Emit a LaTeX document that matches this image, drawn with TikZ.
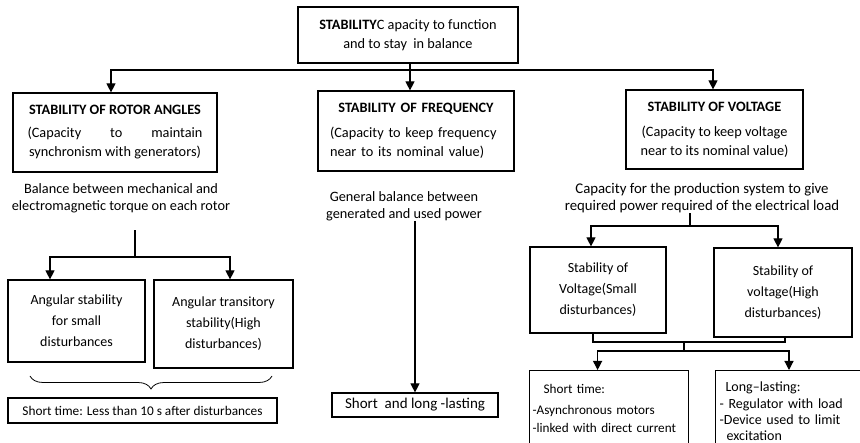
\documentclass[tikz,border=0pt]{standalone}
\usepackage{fontspec}
\setmainfont{Carlito}
\usetikzlibrary{arrows.meta}
\usetikzlibrary{decorations.pathreplacing}
\tikzset{
  stabbox/.style={draw, line width=1.2pt, align=center, inner sep=2pt, font=\fontsize{14.3}{19}\selectfont},
  plaintext/.style={align=center, inner sep=0pt, font=\fontsize{14.3}{17}\selectfont},
  branch/.style={line width=1.2pt},
  arr/.style={line width=1.2pt, -{Triangle[length=9pt,width=9pt]}},
}
\newcommand{\stabblock}[7][]{\node[stabbox, minimum width=#5pt, minimum height=#6pt, #1] (#2) at (#3,#4) {#7};}

\begin{document}
\begin{tikzpicture}[x=1pt,y=-1pt]
        \path[use as bounding box, clip] (0,0) rectangle (860,443);

        % top
        \stabblock{top}{408}{35}{220}{56}{\textbf{STABILITY}C apacity to function\\and to stay\ \ in balance}

        % level 1
        \stabblock{rotor}{115}{132.5}{204}{79}{\textbf{STABILITY OF ROTOR ANGLES}\\[4pt]\makebox[175pt][s]{(Capacity to maintain}\\synchronism with generators)}
        \stabblock[align=left, text width=178pt]{freq}{416}{131}{196}{80}{\makebox[178pt]{\textbf{STABILITY OF FREQUENCY}}\\[6pt]\hspace*{3pt}(Capacity to keep frequency\\\hspace*{3pt}near to its nominal value)}
        \stabblock{volt}{714.5}{129.5}{177}{79}{\textbf{STABILITY OF VOLTAGE}\\[6pt](Capacity to keep voltage\\near to its nominal value)}

        \node[plaintext] (bal1) at (121,198) {Balance between mechanical and\\electromagnetic torque on each rotor};
        \node[plaintext] (bal2) at (404,206) {General balance between\\generated and used power};
        \node[plaintext, font=\fontsize{14.8}{17}\selectfont] (bal3) at (702,198) {Capacity for the production system to give\\required power required of the electrical load};

        \coordinate (tjoin) at (410,70);
        \draw[branch] (top.south -| tjoin) -- (tjoin);
        \draw[arr] (tjoin) -- (tjoin |- freq.north);
        \draw[arr] (tjoin) -| ([xshift=-4pt]rotor.north);
        \draw[arr] (tjoin) -| ([xshift=-1.5pt]volt.north);

        % rotor angles
        \stabblock[font=\fontsize{14}{21}\selectfont]{angsmall}{76.5}{321}{137}{82}{Angular stability\\for small\\disturbances}
        \stabblock[font=\fontsize{14}{21}\selectfont]{angtrans}{223.5}{324}{139}{88}{Angular transitory\\stability(High\\disturbances)}
        \stabblock[font=\fontsize{13.3}{16}\selectfont]{shortt}{142.5}{410.5}{269}{25}{Short time: Less than 10 s after disturbances}

        \coordinate (ljoin) at (135,257);
        \draw[branch] (ljoin) -- ++(0,-27);
        \draw[arr] (ljoin) -| ([xshift=-26.5pt]angsmall.north);
        \draw[arr] (ljoin) -| ([xshift=6.5pt]angtrans.north);
        \draw[line width=0.8pt, decorate, decoration={brace, amplitude=13pt}] (272,376) -- (30,376);

        % frequency
        \stabblock[font=\fontsize{15}{17}\selectfont]{slast}{415}{405}{166}{24}{Short\ \ and long -lasting}
        \draw[arr] (bal2.south -| slast.north) -- (slast.north);

        % voltage
        \stabblock[font=\fontsize{14}{21}\selectfont]{vsmall}{598}{290}{136}{86}{Stability of\\Voltage(Small\\disturbances)}
        \stabblock[font=\fontsize{14}{21}\selectfont]{vhigh}{783}{292.5}{138}{89}{Stability of\\voltage(High\\disturbances)}

        \coordinate (rjoin) at (690,226);
        \draw[branch] (rjoin |- bal3.south) -- (rjoin);
        \draw[arr] (rjoin) -| ([xshift=-7pt]vsmall.north);
        \draw[arr] (rjoin) -| ([xshift=-5pt]vhigh.north);

        \node[stabbox, anchor=north west, align=left, text width=153pt, inner xsep=3pt, minimum height=76pt, font=\fontsize{13.2}{18}\selectfont] (stime) at (529,370) {\hspace*{11pt}Short time:\\[3pt]-Asynchronous motors\\-linked with direct current};
        \node[stabbox, anchor=north west, align=left, text width=150pt, inner xsep=4pt, minimum height=82pt, font=\fontsize{14}{16.3}\selectfont] (ltime) at (715,370) {\hspace*{6pt}Long--lasting:\\- Regulator with load\\-Device used to limit\\\hspace*{7pt}excitation};

        \coordinate (mjoin) at (684,342);
        \coordinate (sjoin) at (684,351);
        \draw[branch] ([xshift=-5pt]vsmall.south) |- (mjoin) -| ([xshift=2pt]vhigh.south);
        \draw[branch] (mjoin) -- (sjoin);
        \draw[arr] (sjoin) -| ([xshift=-11.5pt]stime.north);
        \draw[arr] (sjoin) -| ([xshift=74pt]ltime.north west);

    \end{tikzpicture}
\end{document}
